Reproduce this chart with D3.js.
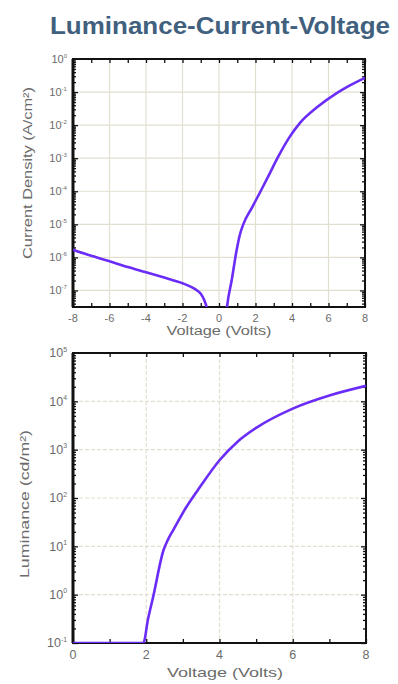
<!DOCTYPE html>
<html>
<head>
<meta charset="utf-8">
<script src="https://cdn.jsdelivr.net/npm/d3@7"></script>
<style>
  body { margin: 0; background: #fff; }
  svg { display: block; font-family: "Liberation Sans", Arial, sans-serif; }
</style>
</head>
<body>
<svg id="grafica" width="398" height="684"></svg>
<script>
// --- datos ---
// J-V, rama inversa (V, A/cm2)
var jvVoltsRev = [-8, -7, -6, -5, -4, -3, -2, -1.5, -1.2, -1.0, -0.8, -0.68, -0.6]
var jvCurrentRev = [1.7e-6, 1.12e-6, 7.6e-7, 5.1e-7, 3.55e-7, 2.45e-7, 1.66e-7, 1.26e-7, 1.0e-7, 7.9e-8, 5.0e-8, 3.2e-8, 2.0e-8]
// J-V, rama directa
var jvVoltsFwd = [0.4, 0.44, 0.7, 0.97, 1.15, 1.33, 1.8, 2.28, 2.79, 3.2, 3.89, 4.44, 5.35, 6.45, 7, 8]
var jvCurrentFwd = [2.0e-8, 3.2e-8, 2.1e-7, 1.7e-6, 5.0e-6, 1.0e-5, 3.16e-5, 1.0e-4, 3.55e-4, 1.0e-3, 4.57e-3, 1.17e-2, 3.39e-2, 9.3e-2, 0.141, 0.269]
// L-V (V, cd/m2)
var lvVolts = [0, 1.92, 2.05, 2.19, 2.47, 2.6, 2.74, 3.1, 3.47, 4.0, 4.5, 5, 6, 7, 8]
var lvLuminance = [0.1, 0.1, 0.316, 0.91, 8.3, 14.1, 21.9, 66, 170, 603, 1480, 2820, 7080, 13200, 20900]

// ejes
var jvXTicks = [-8, -6, -4, -2, 0, 2, 4, 6, 8]
var jvYExps = [0, -1, -2, -3, -4, -5, -6, -7]
var lvXTicks = [0, 2, 4, 6, 8]
var lvYExps = [5, 4, 3, 2, 1, 0, -1]

var colorLinea = '#6a2cf6'
var colorGrid = '#e2dfcf'
var colorTexto = '#6b6b6b'

var svg = d3.select('#grafica')

svg.append('text')
    .attr('x', 50)
    .attr('y', 34)
    .attr('textLength', 340)
    .attr('lengthAdjust', 'spacingAndGlyphs')
    .style('font-size', '24px')
    .style('font-weight', 'bold')
    .style('fill', '#40607e')
    .text('Luminance-Current-Voltage')

function panel(cfg) {
    var g = svg.append('g')
    var x = d3.scaleLinear().domain(cfg.xDomain).range([cfg.left, cfg.right])
    var y = d3.scaleLog().domain(cfg.yDomain).range([cfg.bottom, cfg.top])

    // rejilla
    var gx = cfg.xTicks.slice(1, -1)
    g.selectAll('line.gv')
        .data(gx)
        .enter()
        .append('line')
        .attr('class', 'gv')
        .attr('x1', function (d) { return x(d) })
        .attr('x2', function (d) { return x(d) })
        .attr('y1', cfg.top)
        .attr('y2', cfg.bottom)
        .style('stroke', colorGrid)
        .style('stroke-width', 1.2)
        .style('stroke-dasharray', cfg.dash)
    var gy = cfg.yExps.filter(function (e) {
        var v = Math.pow(10, e)
        return v > cfg.yDomain[0] * 1.01 && v < cfg.yDomain[1] * 0.99
    })
    g.selectAll('line.gh')
        .data(gy)
        .enter()
        .append('line')
        .attr('class', 'gh')
        .attr('x1', cfg.left)
        .attr('x2', cfg.right)
        .attr('y1', function (d) { return y(Math.pow(10, d)) })
        .attr('y2', function (d) { return y(Math.pow(10, d)) })
        .style('stroke', colorGrid)
        .style('stroke-width', 1.2)
        .style('stroke-dasharray', cfg.dash)

    // marcas x cada 1 V (arriba y abajo, hacia dentro)
    var xMin = d3.range(cfg.xDomain[0], cfg.xDomain[1] + 0.5, 1)
    var bottomAxis = d3.axisBottom(x).tickValues(xMin).tickSize(-4).tickFormat('')
    var topAxis = d3.axisTop(x).tickValues(xMin).tickSize(-4).tickFormat('')
    g.append('g').attr('transform', 'translate(0,' + cfg.bottom + ')').call(bottomAxis)
    g.append('g').attr('transform', 'translate(0,' + cfg.top + ')').call(topAxis)

    // marcas y logaritmicas
    var lo = Math.floor(Math.log10(cfg.yDomain[0]))
    var hi = Math.ceil(Math.log10(cfg.yDomain[1]))
    var yMarks = []
    for (var e = lo; e < hi; e++) {
        for (var k = 1; k < 10; k++) {
            var v = k * Math.pow(10, e)
            if (v >= cfg.yDomain[0] * 0.999 && v <= cfg.yDomain[1] * 1.001) yMarks.push({ v: v, major: k == 1 })
        }
    }
    var yMajor = yMarks.filter(function (d) { return d.major }).map(function (d) { return d.v })
    var yMinor = yMarks.filter(function (d) { return !d.major }).map(function (d) { return d.v })
    g.append('g').attr('transform', 'translate(' + cfg.left + ',0)')
        .call(d3.axisLeft(y).tickValues(yMajor).tickSize(-5).tickFormat(''))
    g.append('g').attr('transform', 'translate(' + cfg.left + ',0)')
        .call(d3.axisLeft(y).tickValues(yMinor).tickSize(-3).tickFormat(''))
    g.append('g').attr('transform', 'translate(' + cfg.right + ',0)')
        .call(d3.axisRight(y).tickValues(yMajor).tickSize(-5).tickFormat(''))
    g.append('g').attr('transform', 'translate(' + cfg.right + ',0)')
        .call(d3.axisRight(y).tickValues(yMinor).tickSize(-3).tickFormat(''))
    g.selectAll('.tick line').style('stroke', '#111').style('stroke-width', 1.3)
    g.selectAll('.domain').remove()

    // curvas
    var clipId = 'clip' + cfg.id
    svg.append('clipPath').attr('id', clipId)
        .append('rect')
        .attr('x', cfg.left).attr('y', cfg.top)
        .attr('width', cfg.right - cfg.left).attr('height', cfg.bottom - cfg.top)
    var linea = d3.line()
        .x(function (d) { return x(d[0]) })
        .y(function (d) { return y(d[1]) })
        .curve(d3.curveMonotoneX)

    // marco
    g.append('rect')
        .attr('x', cfg.left).attr('y', cfg.top)
        .attr('width', cfg.right - cfg.left).attr('height', cfg.bottom - cfg.top)
        .style('fill', 'none')
        .style('stroke', '#111')
        .style('stroke-width', 2)
    g.append('line')
        .attr('x1', cfg.left).attr('x2', cfg.left)
        .attr('y1', cfg.top).attr('y2', cfg.bottom)
        .style('stroke', '#111').style('stroke-width', 3)

    cfg.series.forEach(function (s) {
        var pts = s[0].map(function (v, i) { return [v, s[1][i]] })
        g.append('path')
            .datum(pts)
            .attr('clip-path', 'url(#' + clipId + ')')
            .attr('d', linea)
            .style('fill', 'none')
            .style('stroke', colorLinea)
            .style('stroke-width', 2.6)
            .style('stroke-linejoin', 'round')
    })

    // etiquetas x
    g.selectAll('text.xl')
        .data(cfg.xTicks)
        .enter()
        .append('text')
        .attr('class', 'xl')
        .attr('x', function (d) { return x(d) })
        .attr('y', cfg.bottom + cfg.xLabelDy)
        .attr('text-anchor', 'middle')
        .style('font-size', cfg.tickFont + 'px')
        .style('fill', colorTexto)
        .text(function (d) { return d })

    // etiquetas y (10 con exponente)
    var yl = g.selectAll('text.yl')
        .data(cfg.yExps)
        .enter()
        .append('text')
        .attr('class', 'yl')
        .attr('x', cfg.left - 6)
        .attr('y', function (d) { return y(Math.pow(10, d)) + cfg.tickFont * 0.35 })
        .attr('text-anchor', 'end')
        .style('font-size', cfg.tickFont + 'px')
        .style('fill', colorTexto)
    yl.append('tspan').text('10')
    yl.append('tspan')
        .attr('dy', -cfg.tickFont * 0.45)
        .style('font-size', (cfg.tickFont * 0.55) + 'px')
        .text(function (d) { return d })

    // titulos de ejes
    g.append('text')
        .attr('x', cfg.xTitle[0])
        .attr('y', cfg.xTitle[1])
        .attr('text-anchor', 'middle')
        .attr('textLength', cfg.xTitle[2])
        .attr('lengthAdjust', 'spacingAndGlyphs')
        .style('font-size', cfg.titleFont + 'px')
        .style('fill', colorTexto)
        .text('Voltage (Volts)')
    g.append('text')
        .attr('transform', 'translate(' + cfg.yTitle[0] + ',' + cfg.yTitle[1] + ') rotate(-90)')
        .attr('text-anchor', 'middle')
        .attr('textLength', cfg.yTitle[2])
        .attr('lengthAdjust', 'spacingAndGlyphs')
        .style('font-size', cfg.titleFont + 'px')
        .style('fill', colorTexto)
        .text(cfg.yText)
}

panel({
    id: 'jv',
    left: 73, right: 365, top: 59, bottom: 307,
    xDomain: [-8, 8],
    yDomain: [Math.pow(10, -7.5), 1],
    xTicks: jvXTicks,
    yExps: jvYExps,
    dash: null,
    tickFont: 11,
    xLabelDy: 15,
    titleFont: 12,
    xTitle: [219, 335, 105],
    yTitle: [32, 173, 172],
    yText: 'Current Density (A/cm²)',
    series: [[jvVoltsRev, jvCurrentRev], [jvVoltsFwd, jvCurrentFwd]]
})

panel({
    id: 'lv',
    left: 73, right: 366, top: 353, bottom: 643,
    xDomain: [0, 8],
    yDomain: [0.1, 1e5],
    xTicks: lvXTicks,
    yExps: lvYExps,
    dash: '4,2',
    tickFont: 12.5,
    xLabelDy: 16,
    titleFont: 13,
    xTitle: [225, 677, 116],
    yTitle: [29, 504, 148],
    yText: 'Luminance (cd/m²)',
    series: [[lvVolts, lvLuminance]]
})
</script>
</body>
</html>
